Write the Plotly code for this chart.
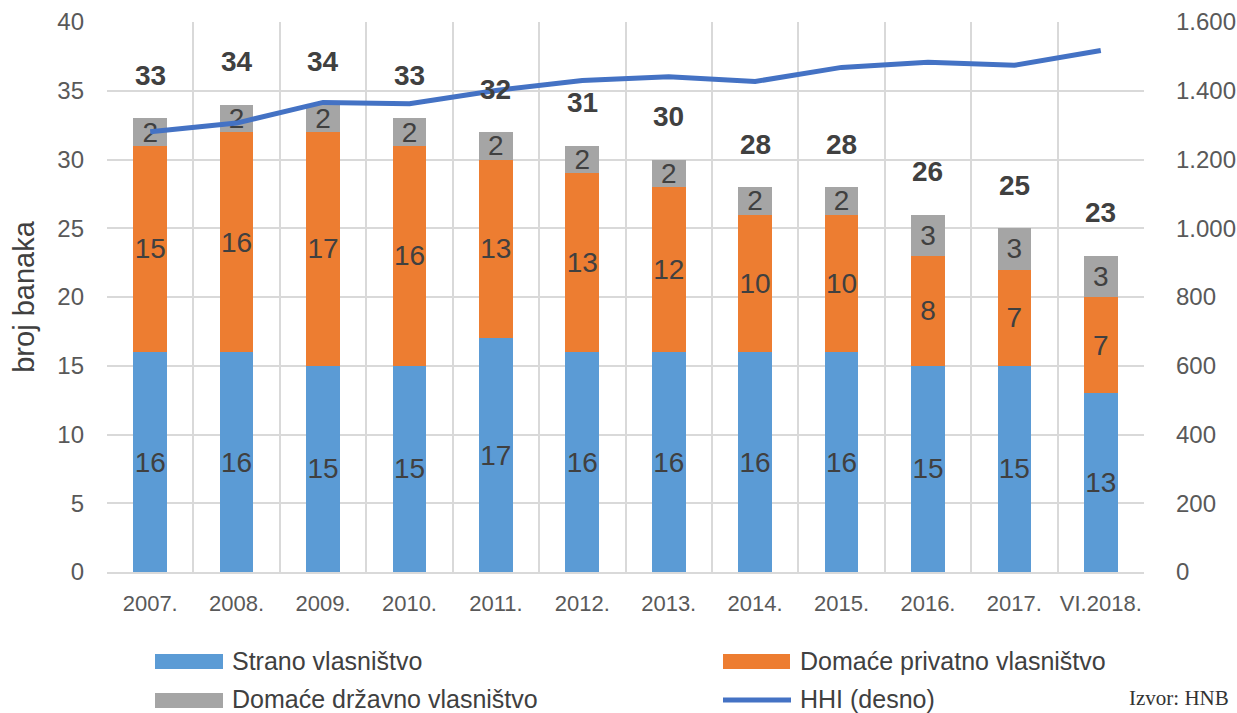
import plotly.graph_objects as go

# ---- data ----
categories = ["2007.", "2008.", "2009.", "2010.", "2011.", "2012.",
              "2013.", "2014.", "2015.", "2016.", "2017.", "VI.2018."]
strano = [16, 16, 15, 15, 17, 16, 16, 16, 16, 15, 15, 13]
domace_privatno = [15, 16, 17, 16, 13, 13, 12, 10, 10, 8, 7, 7]
domace_drzavno = [2, 2, 2, 2, 2, 2, 2, 2, 2, 3, 3, 3]
hhi = [1281, 1306, 1366, 1362, 1401, 1430, 1441, 1427, 1468, 1483, 1474, 1517]
totals = [a + b + c for a, b, c in zip(strano, domace_privatno, domace_drzavno)]

legend_names = ["Strano vlasništvo", "Domaće privatno vlasništvo",
                "Domaće državno vlasništvo", "HHI (desno)"]

# ---- styling ----
W, H = 1237, 713
L, R, T, B = 107, 1144, 22, 572
C_BLUE, C_ORANGE, C_GRAY, C_LINE = "#5B9BD5", "#ED7D31", "#A5A5A5", "#4472C4"
TXT = "#404040"
TICK = "#595959"
GRID = "#D9D9D9"
FONT = "Liberation Sans, Arial, sans-serif"


def px_x(px):
    return (px - L) / (R - L)


def px_y(py):
    return (B - py) / (B - T)


fig = go.Figure()
for name, vals, col in [(legend_names[0], strano, C_BLUE),
                        (legend_names[1], domace_privatno, C_ORANGE),
                        (legend_names[2], domace_drzavno, C_GRAY)]:
    fig.add_trace(go.Bar(
        x=categories, y=vals, name=name, marker=dict(color=col, line=dict(width=0)),
        width=0.39, text=[str(v) for v in vals], textposition="inside",
        insidetextanchor="middle", constraintext="none", textangle=0,
        textfont=dict(size=28, color=TXT, family=FONT), showlegend=False,
        hoverinfo="skip"))

fig.add_trace(go.Scatter(
    x=categories, y=hhi, name=legend_names[3], yaxis="y2", mode="lines",
    line=dict(color=C_LINE, width=5), showlegend=False, hoverinfo="skip"))

annotations = []
for i, tot in enumerate(totals):
    annotations.append(dict(
        x=i, y=tot, xref="x", yref="y", text=f"<b>{tot}</b>", showarrow=False,
        yanchor="middle", yshift=43, font=dict(size=28, color=TXT, family=FONT)))

# manual legend
shapes = []
sw = [(155, 223, 654, 669, C_BLUE), (723, 790, 654, 669, C_ORANGE),
      (155, 223, 693, 708, C_GRAY)]
for x0, x1, y0, y1, col in sw:
    shapes.append(dict(type="rect", xref="paper", yref="paper",
                       x0=px_x(x0), x1=px_x(x1), y0=px_y(y1), y1=px_y(y0),
                       fillcolor=col, line=dict(width=0)))
shapes.append(dict(type="line", xref="paper", yref="paper",
                   x0=px_x(723), x1=px_x(791), y0=px_y(700), y1=px_y(700),
                   line=dict(color=C_LINE, width=5)))
for text, x, y in [(legend_names[0], 230, 661), (legend_names[1], 798, 661),
                   (legend_names[2], 230, 699), (legend_names[3], 798, 699)]:
    annotations.append(dict(x=px_x(x), y=px_y(y), xref="paper", yref="paper",
                            text=text, showarrow=False, xanchor="left",
                            yanchor="middle",
                            font=dict(size=25, color=TXT, family=FONT)))
annotations.append(dict(x=px_x(1231), y=px_y(698), xref="paper", yref="paper",
                        text="Izvor: HNB", showarrow=False, xanchor="right",
                        yanchor="middle",
                        font=dict(size=21, color="#333333",
                                  family="Liberation Serif, Times New Roman, serif")))

fig.update_layout(
    template="none",
    width=W, height=H, autosize=False, barmode="stack",
    margin=dict(l=L, r=W - R, t=T, b=H - B, pad=0, autoexpand=False),
    paper_bgcolor="white", plot_bgcolor="white",
    separators=",.",
    font=dict(family=FONT, color=TICK),
    xaxis=dict(type="category", range=[-0.5, len(categories) - 0.5],
               tickson="boundaries", ticks="", automargin=False,
               showgrid=True, gridcolor=GRID, gridwidth=1.5,
               showline=True, linecolor=GRID, linewidth=2,
               tickfont=dict(size=22, color=TICK), ticklabelstandoff=11,
               tickangle=0),
    yaxis=dict(range=[0, 40], dtick=5, showgrid=True, gridcolor=GRID,
               gridwidth=1.5, zeroline=False, ticks="", automargin=False,
               showline=False,
               tickfont=dict(size=24, color=TICK), ticklabelstandoff=22,
               title=dict(text="broj banaka", font=dict(size=29, color=TXT),
                          standoff=14)),
    yaxis2=dict(range=[0, 1600], dtick=200, overlaying="y", side="right",
                showgrid=False, zeroline=False, ticks="", tickformat=",",
                automargin=False, showline=False,
                tickfont=dict(size=24, color=TICK), ticklabelstandoff=31),
    annotations=annotations, shapes=shapes,
)

fig.write_html("out.html",
               config=dict(displayModeBar=False, responsive=False),
               post_script="document.body.style.margin='0';"
                           "document.body.style.overflow='hidden';")
